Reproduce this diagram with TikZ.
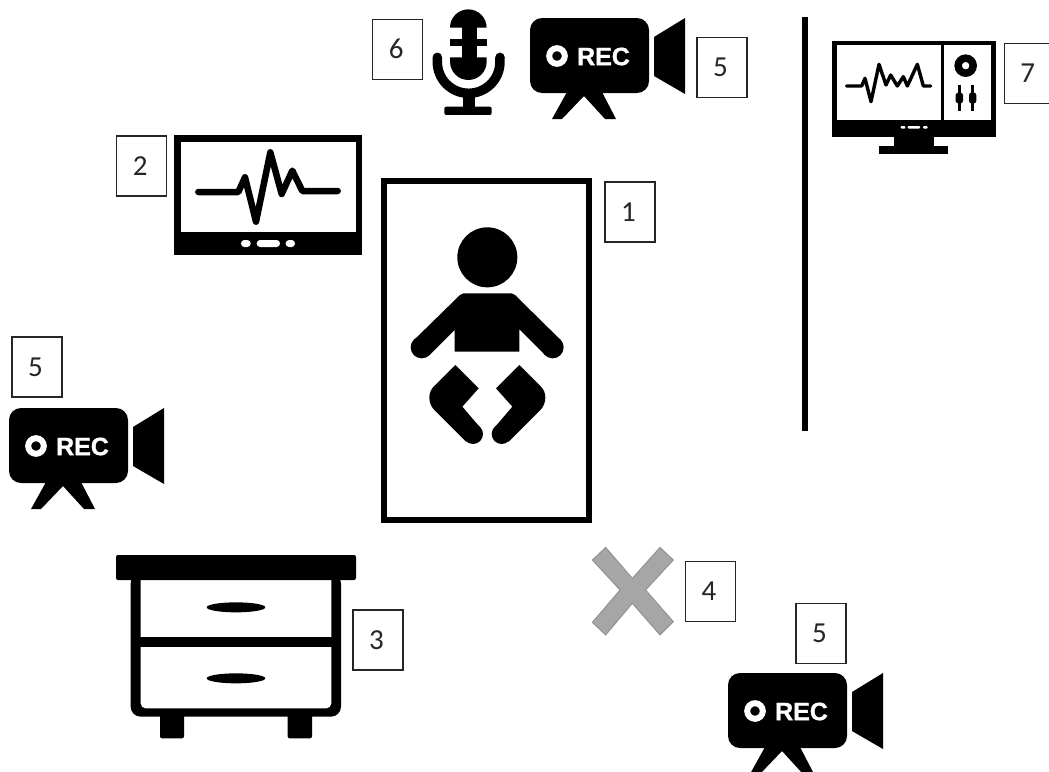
\documentclass[tikz,border=0pt]{standalone}
\usepackage{fontspec}
\setmainfont{Carlito}
\newfontfamily\recfont[BoldFeatures={FakeBold=1.2}]{Liberation Sans}
\begin{document}
\begin{tikzpicture}[x=1pt,y=-1pt,
  numbox/.style={draw=black!85,line width=1.5pt,fill=white,minimum width=50pt,minimum height=60pt,inner sep=0pt,outer sep=0pt},
  numtext/.style={font=\fontsize{29}{29}\selectfont,text=black!85,inner sep=0pt},
  ink/.style={fill=black,draw=none},
  paper/.style={fill=white,draw=none},
  zoomed/.style={x=0.33333pt,y=-0.33333pt},
  camera/.pic={
    \fill[black,rounded corners=12pt] (0,0) rectangle (119,75);
    \fill[black] (124,19) -- (155,0) -- (155,76) -- (124,58) -- cycle;
    \fill[black] (37,74) -- (22,101) -- (32,101) -- (54,78) -- (75,101) -- (86,101) -- (72,74) -- cycle;
    \draw[white,line width=6pt] (27,38) circle (7.8pt);
    \node[name=-rec,inner sep=0pt,text=white,font=\recfont\bfseries\fontsize{25}{25}\selectfont] at (73.5,38.5) {REC};
  }]
\useasboundingbox (0,0) rectangle (1049,771);
\clip (0,0) rectangle (1049,771);
\fill[white] (0,0) rectangle (1049,771);

% bed and partition
\draw[line width=6.3pt] (384.2,181) rectangle (588.8,520);
\fill[black] (802,17) rectangle (808,431);

% baby
\begin{scope}[shift={(380pt,-210pt)},zoomed]
  \fill[ink] (322,142) circle (30pt);
  \fill[ink] (224,425) -- (224,360) -- (148,436) -- (102,390) -- (240,255) -- (250,250) -- (395,250) -- (405,255) -- (542,390) -- (496,436) -- (418,358) -- (418,425) -- cycle;
  \fill[ink] (125,412) circle (11pt) (518,412) circle (11pt);
  \fill[ink] (226,465) -- (296,535) -- (247,590) -- (300,652) -- (258,695) -- (163,600) .. controls (143,580) and (143,545) .. (163,528) -- cycle;
  \fill[ink] (279,672) circle (10pt);
  \fill[ink] (418,465) -- (348,535) -- (397,590) -- (344,652) -- (386,695) -- (481,600) .. controls (501,580) and (501,545) .. (481,528) -- cycle;
  \fill[ink] (365,672) circle (10pt);
\end{scope}

% patient monitor
\begin{scope}[shift={(100pt,-120pt)},zoomed]
  \fill[ink] (222,45) rectangle (787,405);
  \fill[paper] (242,65) rectangle (768,337);
  \draw[line width=6.5pt,line cap=round,line join=round] (295,216) -- (415,216) -- (435,172) -- (468,305) -- (511,97) -- (545,222) -- (577,152) -- (607,213) -- (713,213);
  \fill[paper,rounded corners=3.4pt] (423,360) rectangle (452,381);
  \fill[paper,rounded corners=3.4pt] (470,360) rectangle (540,381);
  \fill[paper,rounded corners=3.4pt] (557,360) rectangle (585,381);
\end{scope}

% recording station
\begin{scope}[shift={(800pt,-20pt)},zoomed]
  \fill[ink] (95,62) rectangle (587,350);
  \fill[ink] (283,350) rectangle (403,378);
  \fill[ink] (238,378) rectangle (443,402);
  \fill[paper] (110,76) rectangle (422,300);
  \fill[paper] (432,76) rectangle (573,300);
  \draw[line width=3.4pt,line cap=round,line join=round] (140,198) -- (185,198) -- (195,175) -- (213,245) -- (237,133) -- (258,195) -- (272,165) -- (292,198) -- (310,170) -- (322,198) -- (352,133) -- (370,198) -- (392,198);
  \draw[line width=7.5pt] (497,137) circle (7.5pt);
  \draw[line width=2.4pt] (478,195) -- (478,272) (518,195) -- (518,272);
  \fill[ink,rounded corners=2.5pt] (467,218) rectangle (489,250);
  \fill[ink,rounded corners=2.5pt] (507,218) rectangle (529,250);
  \fill[paper,rounded corners=1pt] (302,318) rectangle (316,326);
  \fill[paper,rounded corners=1pt] (323,318) rectangle (360,326);
  \fill[paper,rounded corners=1pt] (369,318) rectangle (383,326);
\end{scope}

% microphone
\begin{scope}[shift={(360pt,0pt)},zoomed]
  \fill[ink] (270,83) arc[start angle=180,end angle=0,radius=18.3pt] -- cycle;
  \fill[ink] (305,80) rectangle (350,175);
  \fill[ink] (270,118) rectangle (380,138);
  \fill[ink] (270,172) -- (380,172) -- (380,185) arc[start angle=0,end angle=-180,radius=18.3pt] -- cycle;
  \draw[line width=9.5pt,line cap=round] (232,172) -- (232,186) arc[start angle=180,end angle=360,radius=31.3pt] -- (420,172);
  \fill[ink] (308,280) rectangle (345,325);
  \fill[ink,rounded corners=2pt] (253,320) rectangle (395,345);
\end{scope}

% cameras
\pic (camA) at (530,18) {camera};
\pic (camB) at (9,408) {camera};
\pic (camC) at (728,673) {camera};

% dresser
\begin{scope}[shift={(100pt,-540pt)},zoomed]
  \fill[ink,rounded corners=2pt] (180,520) -- (180,595) -- (252,595) -- (252,520) -- cycle;
  \fill[ink,rounded corners=2pt] (563,520) -- (563,595) -- (636,595) -- (636,520) -- cycle;
  \fill[ink,rounded corners=10pt] (92,100) -- (92,530) -- (723,530) -- (723,100) -- cycle;
  \fill[paper,rounded corners=5pt] (122,100) -- (122,505) -- (694,505) -- (694,100) -- cycle;
  \fill[ink] (100,290) rectangle (710,320);
  \fill[ink,rounded corners=2pt] (48,45) rectangle (768,120);
  \fill[ink] (408,202) ellipse[x radius=29.3pt,y radius=5pt];
  \fill[ink] (408,415) ellipse[x radius=29.3pt,y radius=5pt];
\end{scope}

% cross
\begin{scope}[shift={(580pt,-540pt)},zoomed]
  \fill[black!35,draw=black!45,line width=0.8pt] (77,22) -- (157,115) -- (240,22) -- (280,60) -- (197,150) -- (280,245) -- (240,285) -- (157,190) -- (77,285) -- (37,247) -- (120,150) -- (37,60) -- cycle;
\end{scope}

% number labels
\node[numbox] (b1) at (630,212) {};
\node[numtext] (n1) at (628.5,212) {1};
\node[numbox] (b2) at (141.7,166) {};
\node[numtext] (n2) at (140.2,166) {2};
\node[numbox] (b3) at (378,640) {};
\node[numtext] (n3) at (376.5,640) {3};
\node[numbox] (b4) at (710.3,591.3) {};
\node[numtext] (n4) at (709,591.3) {4};
\node[numbox] (b5a) at (722,67.5) {};
\node[numtext] (n5a) at (720.5,67.5) {5};
\node[numbox] (b5b) at (37,367) {};
\node[numtext] (n5b) at (35.5,367) {5};
\node[numbox] (b5c) at (821,633.3) {};
\node[numtext] (n5c) at (819.5,633.3) {5};
\node[numbox] (b6) at (397.7,49.3) {};
\node[numtext] (n6) at (396.2,49.3) {6};
\node[numbox] (b7) at (1029.3,73.5) {};
\node[numtext] (n7) at (1027.8,73.5) {7};
\end{tikzpicture}
\end{document}
